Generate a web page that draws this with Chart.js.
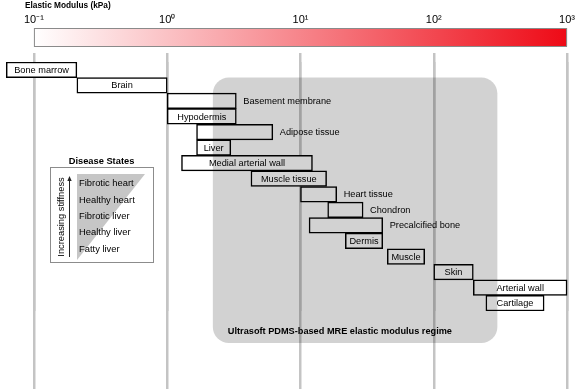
<!DOCTYPE html>
<html><head><meta charset="utf-8">
<script src="https://cdn.jsdelivr.net/npm/chart.js@4.4.1/dist/chart.umd.min.js"></script>
<style>html,body{margin:0;padding:0;background:#fff;}</style>
</head><body>
<canvas id="c" width="575" height="389"></canvas>
<script>
// ---- data ----
const categories = ['Bone marrow','Brain','Basement membrane','Hypodermis','Adipose tissue','Liver','Medial arterial wall','Muscle tissue','Heart tissue','Chondron','Precalcified bone','Dermis','Muscle','Skin','Arterial wall','Cartilage'];
const rangeLow  = [0.062, 0.21, 1.0, 1.0, 1.66, 1.66, 1.28, 4.25, 10, 16, 11.6, 21.7, 44.8, 100, 198, 246];
const rangeHigh = [0.21, 1.0, 3.3, 3.3, 6.2, 3.0, 12.3, 15.7, 18.7, 29.5, 41.4, 41.4, 85.5, 198, 1000, 673];
const tickValues = [0.1, 1, 10, 100, 1000];
const tickLabels = ['10\u207B\u00B9', '10\u2070', '10\u00B9', '10\u00B2', '10\u00B3'];
const regimeRange = [2.2, 300];
const regimeLabel = 'Ultrasoft PDMS-based MRE elastic modulus regime';
const axisTitle = 'Elastic Modulus (kPa)';
const diseaseTitle = 'Disease States';
const diseaseStates = ['Fibrotic heart', 'Healthy heart', 'Fibrotic liver', 'Healthy liver', 'Fatty liver'];
const stiffnessLabel = 'Increasing stiffness';
const outsideLabels = new Set(['Basement membrane', 'Adipose tissue', 'Heart tissue', 'Chondron', 'Precalcified bone']);

const FONT = "'Liberation Sans', Arial, sans-serif";
const X_MIN = Math.pow(10, -1.2545), X_MAX = Math.pow(10, 3.0487);

const annot = {
  id: 'annot',
  beforeDraw(chart) {
    const ctx = chart.ctx;
    ctx.save(); ctx.fillStyle = '#fff'; ctx.fillRect(0, 0, chart.width, chart.height); ctx.restore();
  },
  afterDatasetsDraw(chart) {
    const ctx = chart.ctx, xs = chart.scales.x, ys = chart.scales.y;
    const h = ys.getPixelForValue(1) - ys.getPixelForValue(0);
    // regime region (translucent overlay)
    const rx0 = xs.getPixelForValue(regimeRange[0]), rx1 = xs.getPixelForValue(regimeRange[1]);
    const ry0 = ys.getPixelForValue(1) - h / 2, ry1 = ys.getPixelForValue(categories.length - 1) + h * 2.55;
    ctx.save();
    ctx.fillStyle = 'rgba(0,0,0,0.175)';
    ctx.beginPath();
    ctx.roundRect(rx0, ry0, rx1 - rx0, ry1 - ry0, 16);
    ctx.fill();
    ctx.fillStyle = '#000';
    ctx.font = 'bold 9.2px ' + FONT;
    ctx.textBaseline = 'middle'; ctx.textAlign = 'left';
    ctx.fillText(regimeLabel, rx0 + 15, ry1 - 11);
    // bar labels
    ctx.font = '9.2px ' + FONT;
    const meta = chart.getDatasetMeta(0);
    meta.data.forEach((bar, i) => {
      const p = bar.getProps(['x', 'base', 'y'], true);
      const l = Math.min(p.x, p.base), r = Math.max(p.x, p.base);
      if (outsideLabels.has(categories[i])) { ctx.textAlign = 'left'; ctx.fillText(categories[i], r + 7, p.y + 0.5); }
      else { ctx.textAlign = 'center'; ctx.fillText(categories[i], (l + r) / 2, p.y + 0.5); }
    });
    // disease states legend
    const bx0 = 50, by0 = 167, bx1 = 153, by1 = 262;
    ctx.fillStyle = '#fff'; ctx.fillRect(bx0, by0, bx1 - bx0, by1 - by0);
    ctx.strokeStyle = '#8c8c8c'; ctx.lineWidth = 1;
    ctx.strokeRect(bx0 + 0.5, by0 + 0.5, bx1 - bx0, by1 - by0);
    ctx.fillStyle = '#c6c6c6';
    ctx.beginPath(); ctx.moveTo(77, 174); ctx.lineTo(145, 174); ctx.lineTo(77, 260); ctx.closePath(); ctx.fill();
    ctx.fillStyle = '#000';
    ctx.font = 'bold 9.3px ' + FONT; ctx.textAlign = 'center';
    ctx.fillText(diseaseTitle, (bx0 + bx1) / 2, 161);
    ctx.font = '9.4px ' + FONT; ctx.textAlign = 'left';
    const ly = [183, 200, 216, 232, 249];
    diseaseStates.forEach((s, i) => ctx.fillText(s, 79, ly[i]));
    // arrow
    ctx.strokeStyle = '#222'; ctx.lineWidth = 1;
    ctx.beginPath(); ctx.moveTo(69.5, 257); ctx.lineTo(69.5, 180); ctx.stroke();
    ctx.fillStyle = '#222';
    ctx.beginPath(); ctx.moveTo(69.5, 176); ctx.lineTo(67.3, 181); ctx.lineTo(71.7, 181); ctx.closePath(); ctx.fill();
    ctx.save();
    ctx.translate(61, 217); ctx.rotate(-Math.PI / 2);
    ctx.fillStyle = '#000'; ctx.textAlign = 'center'; ctx.font = '9.3px ' + FONT;
    ctx.fillText(stiffnessLabel, 0, 0);
    ctx.restore();
    ctx.restore();
  },
  afterDraw(chart) {
    const ctx = chart.ctx, xs = chart.scales.x;
    const x0 = xs.getPixelForValue(tickValues[0]), x1 = xs.getPixelForValue(tickValues[tickValues.length - 1]);
    ctx.save();
    const g = ctx.createLinearGradient(x0, 0, x1, 0);
    g.addColorStop(0, '#ffffff');
    g.addColorStop(1, '#ee0a16');
    ctx.fillStyle = g;
    ctx.fillRect(x0, 28, x1 - x0, 18);
    ctx.strokeStyle = '#8a8a8a'; ctx.lineWidth = 1;
    ctx.strokeRect(x0 + 0.5, 28.5, x1 - x0 - 1, 18);
    ctx.fillStyle = '#000';
    ctx.font = 'bold 8.3px ' + FONT; ctx.textAlign = 'left'; ctx.textBaseline = 'middle';
    ctx.fillText(axisTitle, 25, 6);
    ctx.restore();
  }
};

const setTicks = (s) => { s.ticks = tickValues.map(v => ({ value: v })); };

new Chart(document.getElementById('c'), {
  type: 'bar',
  data: {
    labels: categories,
    datasets: [{
      data: categories.map((c, i) => [rangeLow[i], rangeHigh[i]]),
      backgroundColor: '#ffffff',
      borderColor: '#000000',
      borderWidth: 1.5,
      borderSkipped: false,
      barPercentage: 1,
      categoryPercentage: 1
    }]
  },
  options: {
    indexAxis: 'y',
    responsive: false,
    animation: false,
    layout: { padding: { top: 13.4, left: 0, right: 0, bottom: 0 } },
    plugins: { legend: { display: false }, tooltip: { enabled: false }, title: { display: false } },
    scales: {
      x: {
        type: 'logarithmic', position: 'top', min: X_MIN, max: X_MAX,
        afterBuildTicks: setTicks,
        border: { display: false },
        grid: { color: '#c4c4c4', lineWidth: 2.5, tickLength: 9, drawTicks: true },
        ticks: {
          padding: 0, color: '#000', font: { family: FONT, size: 11 },
          maxRotation: 0, autoSkip: false,
          // label on the first line, two empty lines leave room for the colour bar
          callback: (v) => { const i = tickValues.indexOf(v); return i >= 0 ? [tickLabels[i], '', ''] : ''; }
        }
      },
      x2: {
        type: 'logarithmic', position: 'bottom', min: X_MIN, max: X_MAX,
        afterBuildTicks: setTicks,
        border: { display: false },
        grid: { color: '#c4c4c4', lineWidth: 2.5, tickLength: 78, drawTicks: true },
        ticks: { display: false }
      },
      y: { type: 'category', display: false }
    }
  },
  plugins: [annot]
});
</script>
</body></html>
